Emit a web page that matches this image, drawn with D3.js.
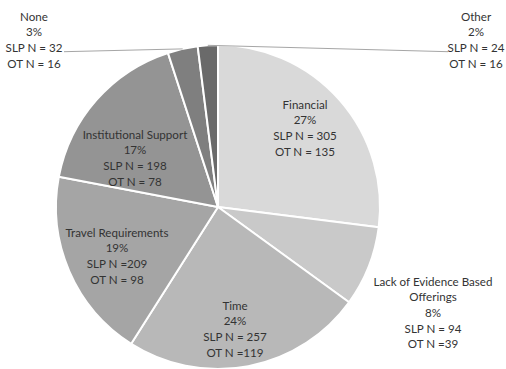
<!DOCTYPE html>
<html>
<head>
<meta charset="utf-8">
<script src="https://cdn.jsdelivr.net/npm/d3@7"></script>
<style>
  html, body { margin: 0; padding: 0; background: #fff; }
  svg { display: block; }
  text { font-family: Lato, "Liberation Sans", sans-serif; font-size: 11.6px; fill: #333333; }
</style>
</head>
<body>
<svg id="chart" width="506" height="369"></svg>
<script>
// Barriers to continuing education, share of responses
const categories = ["Financial", "Lack of Evidence Based Offerings", "Time", "Travel Requirements", "Institutional Support", "None", "Other"];
const percents = [27, 8, 24, 19, 17, 3, 2];
const slpN = [305, 94, 257, 209, 198, 32, 24];
const otN = [135, 39, 119, 98, 78, 16, 16];
const sliceColors = ["#d9d9d9", "#c9c9c9", "#b8b8b8", "#a5a5a5", "#949494", "#7f7f7f", "#6a6a6a"];

// label line breaks and the "=" spacing used on each label
const labelLines = [
  ["Financial", "27%", "SLP N = 305", "OT N = 135"],
  ["Lack of Evidence Based", "Offerings", "8%", "SLP N = 94", "OT N =39"],
  ["Time", "24%", "SLP N = 257", "OT N =119"],
  ["Travel Requirements", "19%", "SLP N =209", "OT N = 98"],
  ["Institutional Support", "17%", "SLP N = 198", "OT N = 78"],
  ["None", "3%", "SLP N = 32", "OT N = 16"],
  ["Other", "2%", "SLP N = 24", "OT N = 16"]
];

const svg = d3.select("#chart");
const cx = 218, cy = 207, radius = 162;
const lineH = 15.7;

const data = categories.map((c, i) => ({ name: c, pct: percents[i], color: sliceColors[i], lines: labelLines[i] }));

const pie = d3.pie().sort(null).value(d => d.pct);
const arcs = pie(data);
const arc = d3.arc().innerRadius(0).outerRadius(radius);

const g = svg.append("g").attr("transform", `translate(${cx},${cy})`);

g.selectAll("path.slice")
  .data(arcs)
  .join("path")
  .attr("class", "slice")
  .attr("d", arc)
  .attr("fill", d => d.data.color)
  .attr("stroke", "#ffffff")
  .attr("stroke-width", 2)
  .attr("stroke-linejoin", "round");

// label anchor positions (centre of the text block) relative to the pie centre
const labelPos = [
  { x: 87, y: -79 },
  { x: 215, y: 106 },
  { x: 17, y: 122 },
  { x: -101, y: 49 },
  { x: -83, y: -49 },
  { x: -184, y: -167 },
  { x: 258, y: -167 }
];

// leader lines for the two thin slices, from arc edge to label
const leaders = [
  { i: 5, to: [-154, -155.3] },
  { i: 6, to: [230, -155.3] }
];
const edge = d3.arc().innerRadius(radius).outerRadius(radius);
leaders.forEach(l => {
  const [ex, ey] = edge.centroid(arcs[l.i]);
  g.append("line")
    .attr("x1", ex).attr("y1", ey)
    .attr("x2", l.to[0]).attr("y2", l.to[1])
    .attr("stroke", "#a6a6a6")
    .attr("stroke-width", 1);
});

arcs.forEach((a, i) => {
  const p = labelPos[i];
  const lines = a.data.lines;
  const t = g.append("text")
    .attr("text-anchor", "middle")
    .attr("transform", `translate(${p.x},${p.y})`);
  lines.forEach((s, k) => {
    t.append("tspan")
      .attr("x", 0)
      .attr("y", (k - (lines.length - 1) / 2) * lineH)
      .attr("dy", "0.35em")
      .text(s);
  });
});
</script>
</body>
</html>
